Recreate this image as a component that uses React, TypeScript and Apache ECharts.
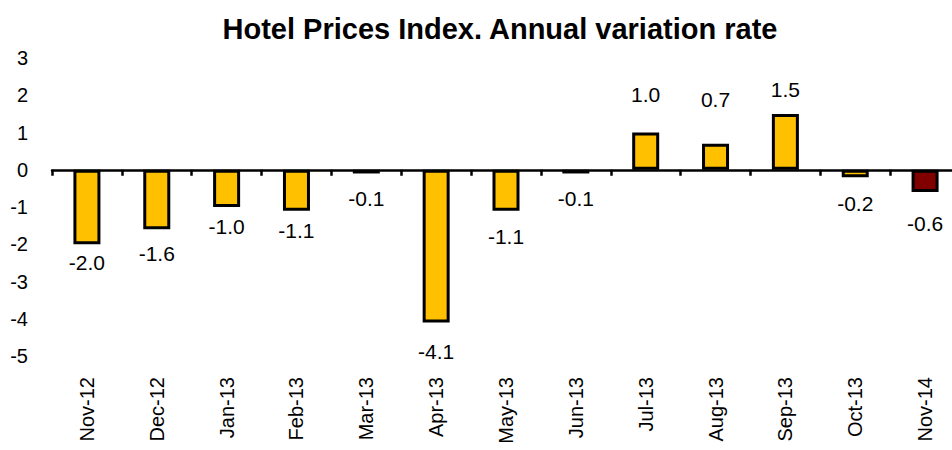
import React, { useEffect, useRef } from "react";
import * as echarts from "echarts";

const categories = ["Nov-12", "Dec-12", "Jan-13", "Feb-13", "Mar-13", "Apr-13", "May-13", "Jun-13", "Jul-13", "Aug-13", "Sep-13", "Oct-13", "Nov-14"];
const values = [-2.0, -1.6, -1.0, -1.1, -0.1, -4.1, -1.1, -0.1, 1.0, 0.7, 1.5, -0.2, -0.6];
const labelDistances = [8, 14, 9, 9, 15, 19, 15, 15, 28, 34, 14, 16, 21];
const highlightIndex = 12;

const FONT = "'Liberation Sans', Arial, sans-serif";

export default function App() {
  const ref = useRef<HTMLDivElement>(null);
  useEffect(() => {
    if (!ref.current) return;
    const chart = echarts.init(ref.current, null, { renderer: "svg" });
    chart.setOption({
      animation: false,
      backgroundColor: "#ffffff",
      title: {
        text: "Hotel Prices Index. Annual variation rate",
        left: 495,
        textAlign: "center",
        top: 9,
        textStyle: { fontFamily: FONT, fontSize: 29, fontWeight: "bold", color: "#000" },
      },
      grid: { left: 52, right: -8, top: 58, bottom: 94, containLabel: false, outerBoundsMode: "none" },
      xAxis: [
        {
          type: "category",
          data: categories,
          position: "bottom",
          axisLine: { onZero: true, lineStyle: { color: "#000", width: 2.5 } },
          axisTick: { show: true, alignWithLabel: false, length: 6, lineStyle: { color: "#000", width: 2.5 } },
          axisLabel: { show: false },
          splitLine: { show: false },
          z: 5,
        },
        {
          type: "category",
          data: categories,
          position: "bottom",
          axisLine: { show: false, onZero: false },
          axisTick: { show: false },
          axisLabel: {
            show: true,
            rotate: 90,
            margin: 21,
            interval: 0,
            fontFamily: FONT,
            fontSize: 20,
            color: "#000",
          },
          splitLine: { show: false },
        },
      ],
      yAxis: {
        type: "value",
        min: -5,
        max: 3,
        interval: 1,
        axisLine: { show: false },
        axisTick: { show: false },
        splitLine: { show: false },
        axisLabel: { margin: 24, fontFamily: FONT, fontSize: 20, color: "#000" },
      },
      series: [
        {
          type: "bar",
          xAxisIndex: 0,
          barWidth: 27,
          data: values.map((v, i) => ({
            value: v,
            itemStyle: {
              color: i === highlightIndex ? "#800000" : "#FFC000",
              borderColor: "#000",
              borderWidth: 3,
            },
            label: {
              show: true,
              position: v < 0 ? "bottom" : "top",
              distance: labelDistances[i],
              formatter: () => v.toFixed(1),
              fontFamily: FONT,
              fontSize: 21,
              color: "#000",
            },
          })),
        },
      ],
    });
    return () => chart.dispose();
  }, []);
  return <div ref={ref} style={{ width: 952, height: 450, position: "absolute", left: 0, top: 0 }} />;
}
